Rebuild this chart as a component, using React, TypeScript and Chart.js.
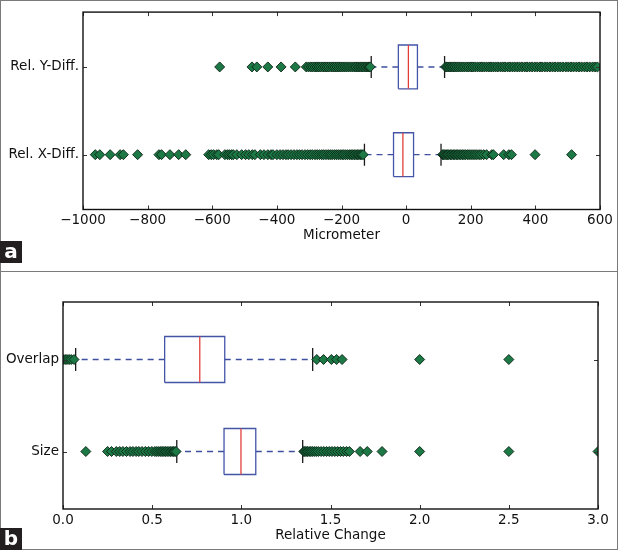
import React, { useEffect, useRef } from 'react';
import { Chart, registerables } from 'chart.js';

Chart.register(...registerables);

// ---------- Panel a data ----------
const aCategories = ['Rel. X-Diff.', 'Rel. Y-Diff.'];
const aTicks = [-1000, -800, -600, -400, -200, 0, 200, 400, 600];
const aWhiskerLow = [-129, -108];
const aQ1 = [-39, -24];
const aMedian = [-10, 7];
const aQ3 = [23, 35];
const aWhiskerHigh = [108, 119];
const aXDiffLowOutliers = [-962, -948, -916, -885, -875, -831, -765, -757, -731, -704, -682, -611, -603, -596, -586, -580, -561, -553, -547, -540, -535, -524, -509, -497, -487, -476, -468, -451, -440, -428, -418, -412, -400, -390, -381, -372, -365, -356, -347, -338, -330, -322, -313, -305, -297, -290, -282, -275, -268, -261, -255, -248, -241, -235, -229, -222, -216, -210, -204, -198, -193, -187, -181, -175, -170, -165, -160, -155, -150, -146, -141, -137, -133];
const aXDiffHighOutliers = [113, 116, 120, 124, 128, 132, 137, 141, 146, 150, 155, 159, 164, 169, 174, 179, 184, 190, 195, 201, 207, 213, 219, 226, 232, 240, 249, 265, 270, 302, 318, 326, 399, 512];
const aYDiffLowOutliers = [-577, -477, -462, -428, -387, -343, -309, -302, -295, -289, -282, -276, -270, -264, -257, -251, -245, -239, -232, -226, -220, -214, -208, -202, -196, -190, -184, -178, -172, -166, -160, -155, -149, -144, -139, -134, -129, -124, -119, -115, -111];
const aYDiffHighOutliers = [122, 126, 131, 136, 141, 146, 151, 157, 163, 169, 175, 181, 188, 194, 201, 207, 214, 221, 228, 235, 242, 249, 256, 263, 270, 277, 284, 292, 299, 306, 314, 321, 329, 336, 344, 351, 359, 367, 374, 382, 390, 398, 406, 414, 421, 429, 437, 445, 453, 461, 469, 477, 485, 494, 502, 510, 518, 527, 535, 543, 552, 560, 568, 577, 585, 592];

// ---------- Panel b data ----------
const bCategories = ['Size', 'Overlap'];
const bTicks = [0, 0.5, 1.0, 1.5, 2.0, 2.5, 3.0];
const bWhiskerLow = [0.638, 0.071];
const bQ1 = [0.903, 0.57];
const bMedian = [0.998, 0.767];
const bQ3 = [1.081, 0.907];
const bWhiskerHigh = [1.344, 1.4];
const bSizeLowOutliers = [0.128, 0.25, 0.272, 0.299, 0.318, 0.336, 0.356, 0.376, 0.392, 0.41, 0.425, 0.443, 0.462, 0.48, 0.498, 0.515, 0.526, 0.537, 0.548, 0.556, 0.566, 0.575, 0.584, 0.594, 0.603, 0.612, 0.62, 0.628, 0.634];
const bSizeHighOutliers = [1.35, 1.356, 1.363, 1.371, 1.38, 1.389, 1.398, 1.409, 1.42, 1.432, 1.447, 1.462, 1.478, 1.493, 1.508, 1.524, 1.54, 1.556, 1.572, 1.59, 1.606, 1.666, 1.706, 1.789, 2.0, 2.5, 3.0];
const bOverlapLowOutliers = [0.0, 0.012, 0.022, 0.034, 0.046, 0.062];
const bOverlapHighOutliers = [1.423, 1.461, 1.505, 1.534, 1.565, 2.0, 2.5];

const FONT = 'DejaVu Sans';
const FONT_SIZE = 13.5;
const TEXT_COLOR = '#111';
const BOX_COLOR = '#4455a8';
const WHISKER_COLOR = '#3d4f9e';
const MEDIAN_COLOR = '#e0403a';
const CAP_COLOR = '#1a1a1a';
const FLIER_FILL = '#1c7845';
const FLIER_EDGE = '#0a2414';
const HALF = 0.25;
const CAP_HALF = 0.125;

type PanelSpec = {
  categories: string[];
  ticks: number[];
  min: number;
  max: number;
  wLow: number[];
  q1: number[];
  med: number[];
  q3: number[];
  wHigh: number[];
  outliers: number[][];
  title: string;
  fmt: (v: number) => string;
  padTop: number;
  padRight: number;
  yWidth: number;
  xHeight: number;
  titlePadBottom: number;
};

const framePlugin = {
  id: 'mplFrame',
  afterDatasetsDraw(chart: any) {
    const { ctx, chartArea: ca, scales } = chart;
    const xs = scales.x;
    const ys = scales.y;
    ctx.save();
    ctx.strokeStyle = '#333';
    ctx.lineWidth = 1;
    ctx.beginPath();
    xs.ticks.forEach((t: any) => {
      const p = Math.round(xs.getPixelForValue(t.value)) + 0.5;
      ctx.moveTo(p, ca.bottom);
      ctx.lineTo(p, ca.bottom - 4);
      ctx.moveTo(p, ca.top);
      ctx.lineTo(p, ca.top + 4);
    });
    ys.ticks.forEach((t: any) => {
      const p = Math.round(ys.getPixelForValue(t.value)) + 0.5;
      ctx.moveTo(ca.left, p);
      ctx.lineTo(ca.left + 4, p);
      ctx.moveTo(ca.right, p);
      ctx.lineTo(ca.right - 4, p);
    });
    ctx.stroke();
    ctx.strokeStyle = '#111';
    ctx.lineWidth = 1.4;
    ctx.strokeRect(ca.left, ca.top, ca.right - ca.left, ca.bottom - ca.top);
    ctx.restore();
  },
};

function lineDs(points: { x: number; y: number }[], color: string, width: number, order: number, dash?: number[]) {
  return {
    type: 'scatter',
    data: points,
    showLine: true,
    borderColor: color,
    backgroundColor: color,
    borderWidth: width,
    borderDash: dash || [],
    pointRadius: 0,
    pointHoverRadius: 0,
    fill: false,
    tension: 0,
    clip: 0,
    order,
  };
}

function buildDatasets(s: PanelSpec) {
  const ds: any[] = [];
  s.categories.forEach((_, i) => {
    const y = i + 1;
    ds.push(lineDs([{ x: s.q1[i], y }, { x: s.wLow[i], y }], WHISKER_COLOR, 1.4, 4, [6, 5]));
    ds.push(lineDs([{ x: s.q3[i], y }, { x: s.wHigh[i], y }], WHISKER_COLOR, 1.4, 4, [6, 5]));
    ds.push(lineDs([{ x: s.wLow[i], y: y - CAP_HALF }, { x: s.wLow[i], y: y + CAP_HALF }], CAP_COLOR, 1.3, 3));
    ds.push(lineDs([{ x: s.wHigh[i], y: y - CAP_HALF }, { x: s.wHigh[i], y: y + CAP_HALF }], CAP_COLOR, 1.3, 3));
    ds.push(
      lineDs(
        [
          { x: s.q1[i], y: y - HALF },
          { x: s.q3[i], y: y - HALF },
          { x: s.q3[i], y: y + HALF },
          { x: s.q1[i], y: y + HALF },
          { x: s.q1[i], y: y - HALF },
        ],
        BOX_COLOR,
        1.3,
        2
      )
    );
    ds.push(lineDs([{ x: s.med[i], y: y - HALF }, { x: s.med[i], y: y + HALF }], MEDIAN_COLOR, 1.3, 1));
    ds.push({
      type: 'scatter',
      data: s.outliers[i].map((v) => ({ x: v, y })),
      pointStyle: 'rectRot',
      pointRadius: 5,
      pointHoverRadius: 5,
      backgroundColor: FLIER_FILL,
      borderColor: FLIER_EDGE,
      borderWidth: 0.9,
      showLine: false,
      clip: 0,
      order: 0,
    });
  });
  return ds;
}

function makeChart(canvas: HTMLCanvasElement, s: PanelSpec) {
  return new Chart(canvas, {
    type: 'scatter',
    data: { datasets: buildDatasets(s) },
    plugins: [framePlugin],
    options: {
      responsive: false,
      animation: false,
      events: [],
      layout: { padding: { top: s.padTop, right: s.padRight, left: 0, bottom: 0 } },
      plugins: { legend: { display: false }, tooltip: { enabled: false } },
      scales: {
        x: {
          type: 'linear',
          min: s.min,
          max: s.max,
          afterBuildTicks: (sc: any) => {
            sc.ticks = s.ticks.map((v) => ({ value: v }));
          },
          afterFit: (sc: any) => {
            sc.height = s.xHeight;
          },
          grid: { display: false, drawTicks: false },
          border: { display: false },
          ticks: {
            autoSkip: false,
            maxRotation: 0,
            padding: 3,
            color: TEXT_COLOR,
            font: { family: FONT, size: FONT_SIZE },
            callback: (v: any) => s.fmt(Number(v)),
          },
          title: {
            display: true,
            text: s.title,
            color: TEXT_COLOR,
            font: { family: FONT, size: FONT_SIZE },
            padding: { top: 0, bottom: s.titlePadBottom },
          },
        },
        y: {
          type: 'linear',
          min: 0.375,
          max: 2.625,
          afterBuildTicks: (sc: any) => {
            sc.ticks = s.categories.map((_, i) => ({ value: i + 1 }));
          },
          afterFit: (sc: any) => {
            sc.width = s.yWidth;
          },
          grid: { display: false, drawTicks: false },
          border: { display: false },
          ticks: {
            padding: 4,
            color: TEXT_COLOR,
            font: { family: FONT, size: FONT_SIZE },
            callback: (v: any) => s.categories[Math.round(Number(v)) - 1],
          },
        },
      },
    } as any,
  });
}

const minus = (v: number) => (v < 0 ? '\u2212' + Math.abs(v) : String(v));

const panelA: PanelSpec = {
  categories: aCategories,
  ticks: aTicks,
  min: -1000,
  max: 600,
  wLow: aWhiskerLow,
  q1: aQ1,
  med: aMedian,
  q3: aQ3,
  wHigh: aWhiskerHigh,
  outliers: [
    [...aXDiffLowOutliers, ...aXDiffHighOutliers],
    [...aYDiffLowOutliers, ...aYDiffHighOutliers],
  ],
  title: 'Micrometer',
  fmt: minus,
  padTop: 10,
  padRight: 19,
  yWidth: 83,
  xHeight: 62.5,
  titlePadBottom: 28,
};

const panelB: PanelSpec = {
  categories: bCategories,
  ticks: bTicks,
  min: 0,
  max: 3,
  wLow: bWhiskerLow,
  q1: bQ1,
  med: bMedian,
  q3: bQ3,
  wHigh: bWhiskerHigh,
  outliers: [
    [...bSizeLowOutliers, ...bSizeHighOutliers],
    [...bOverlapLowOutliers, ...bOverlapHighOutliers],
  ],
  title: 'Relative Change',
  fmt: (v: number) => v.toFixed(1),
  padTop: 30,
  padRight: 21,
  yWidth: 63,
  xHeight: 42,
  titlePadBottom: 7,
};

const labelStyle: React.CSSProperties = {
  position: 'absolute',
  left: 0,
  width: 22,
  height: 22,
  background: '#231f20',
  color: '#fff',
  fontFamily: FONT,
  fontSize: 20,
  fontWeight: 'bold',
  lineHeight: '20px',
  textAlign: 'center',
};

export default function App() {
  const refA = useRef<HTMLCanvasElement>(null);
  const refB = useRef<HTMLCanvasElement>(null);

  useEffect(() => {
    document.body.style.margin = '0';
    document.body.style.background = '#fff';
    const ca = makeChart(refA.current as HTMLCanvasElement, panelA);
    const cb = makeChart(refB.current as HTMLCanvasElement, panelB);
    return () => {
      ca.destroy();
      cb.destroy();
    };
  }, []);

  return (
    <div style={{ position: 'relative', width: 619, height: 551, background: '#fff', overflow: 'hidden' }}>
      <canvas ref={refA} width={619} height={272} style={{ position: 'absolute', left: 0, top: 0, width: 619, height: 272 }} />
      <canvas ref={refB} width={619} height={279} style={{ position: 'absolute', left: 0, top: 272, width: 619, height: 279 }} />
      <div
        style={{
          position: 'absolute',
          left: 0,
          top: 0,
          width: 618,
          height: 550,
          border: '1px solid #7a7a7a',
          boxSizing: 'border-box',
          pointerEvents: 'none',
        }}
      />
      <div style={{ position: 'absolute', left: 0, top: 271, width: 618, height: 1, background: '#7a7a7a' }} />
      <div style={{ ...labelStyle, top: 241 }}>a</div>
      <div style={{ ...labelStyle, top: 528 }}>b</div>
    </div>
  );
}
